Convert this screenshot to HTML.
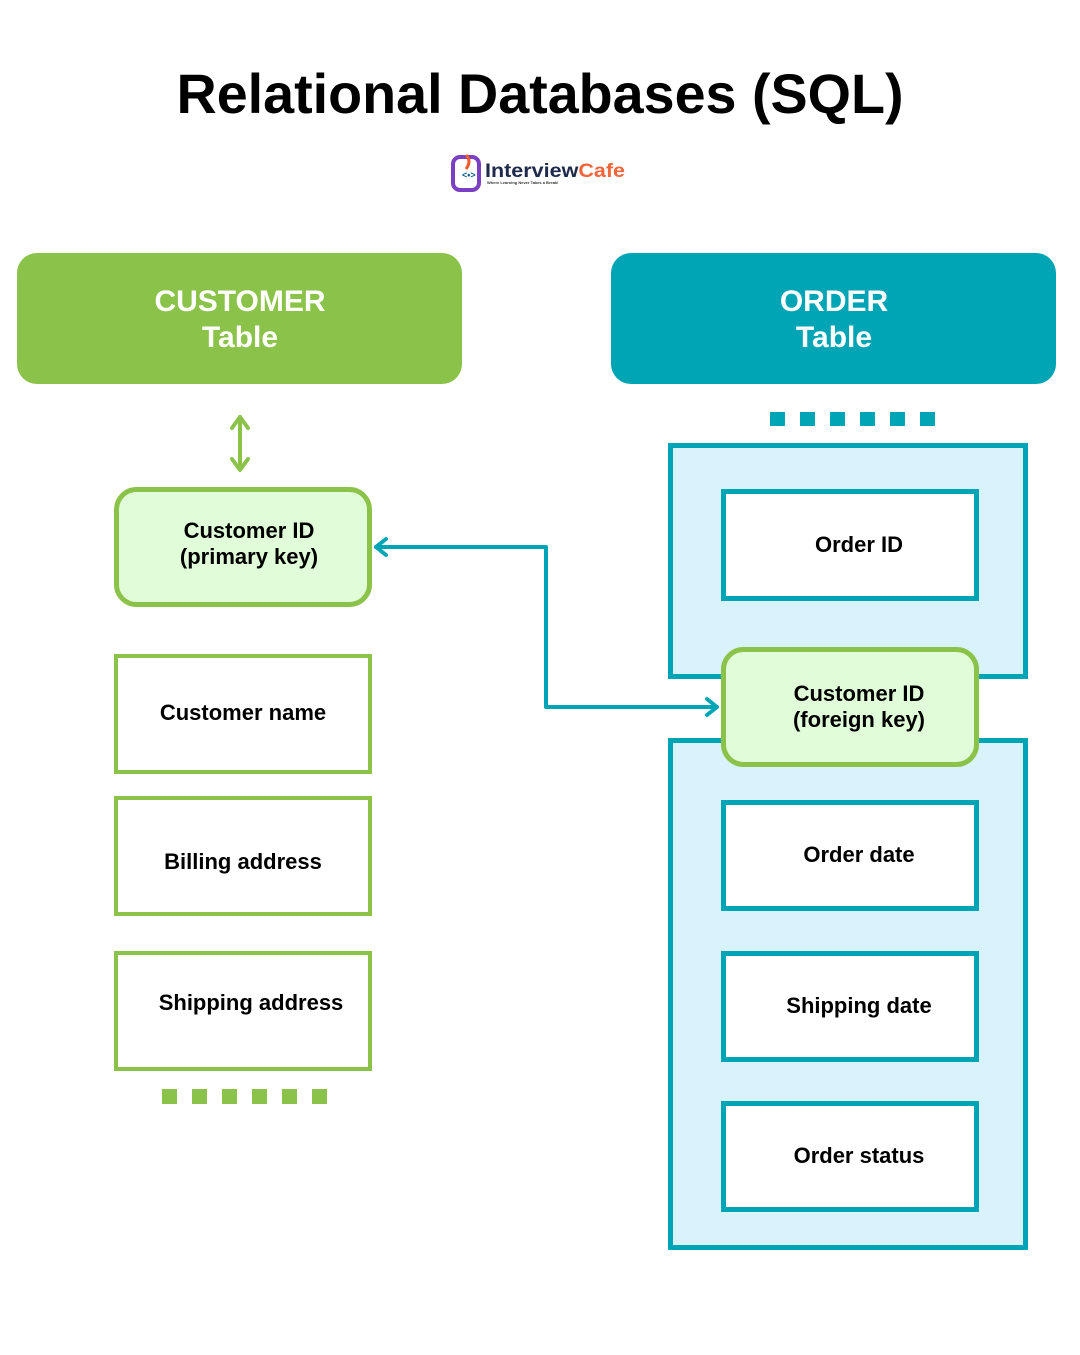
<!DOCTYPE html>
<html><head><meta charset="utf-8"><style>
body{margin:0;background:#fff}
svg text{font-family:"Liberation Sans",sans-serif;font-weight:bold}
</style></head><body>
<svg width="1080" height="1350" viewBox="0 0 1080 1350" xmlns="http://www.w3.org/2000/svg">
<text x="540" y="113" font-size="56" text-anchor="middle" fill="#000" textLength="727" lengthAdjust="spacingAndGlyphs">Relational Databases (SQL)</text>
<!-- logo -->
<rect x="453" y="157" width="26" height="33" rx="7" fill="none" stroke="#7b3fc4" stroke-width="4"/>
<path d="M466 155 q6 6 0 14" stroke="#f25c2a" stroke-width="3" fill="none"/>
<text x="462" y="178" font-size="9" fill="#0a5b8a">&lt;•&gt;</text>
<text x="485" y="177" font-size="19" fill="#1e2a4a" textLength="140" lengthAdjust="spacingAndGlyphs">Interview<tspan fill="#f2643a">Cafe</tspan></text>
<text x="487" y="184" font-size="4" fill="#333">Where Learning Never Takes a Break!</text>
<!-- headers -->
<rect x="17" y="253" width="445" height="131" rx="20" fill="#8bc34a"/>
<text x="240" y="311" font-size="30" fill="#fff" text-anchor="middle">CUSTOMER</text>
<text x="240" y="347" font-size="30" fill="#fff" text-anchor="middle">Table</text>
<rect x="611" y="253" width="445" height="131" rx="20" fill="#00a5b5"/>
<text x="834" y="311" font-size="30" fill="#fff" text-anchor="middle">ORDER</text>
<text x="834" y="347" font-size="30" fill="#fff" text-anchor="middle">Table</text>
<!-- teal dots -->
<g fill="#00a5b5"><rect x="770" y="412" width="15" height="14"/><rect x="800" y="412" width="15" height="14"/><rect x="830" y="412" width="15" height="14"/><rect x="860" y="412" width="15" height="14"/><rect x="890" y="412" width="15" height="14"/><rect x="920" y="412" width="15" height="14"/></g>
<g fill="#8bc34a"><rect x="162" y="1089" width="15" height="15"/><rect x="192" y="1089" width="15" height="15"/><rect x="222" y="1089" width="15" height="15"/><rect x="252" y="1089" width="15" height="15"/><rect x="282" y="1089" width="15" height="15"/><rect x="312" y="1089" width="15" height="15"/></g>
<!-- order containers -->
<rect x="670.5" y="445.5" width="355" height="231" fill="#d8f3fc" stroke="#00a5b5" stroke-width="5"/>
<rect x="670.5" y="740.5" width="355" height="507" fill="#d8f3fc" stroke="#00a5b5" stroke-width="5"/>
<g fill="#fff" stroke="#00a5b5" stroke-width="5">
<rect x="723.5" y="491.5" width="253" height="107"/>
<rect x="723.5" y="802.5" width="253" height="106"/>
<rect x="723.5" y="953.5" width="253" height="106"/>
<rect x="723.5" y="1103.5" width="253" height="106"/>
</g>
<rect x="723.5" y="649.5" width="253" height="115" rx="20" fill="#e0fcd8" stroke="#8bc34a" stroke-width="5"/>
<g font-size="22" fill="#000" text-anchor="middle">
<text x="859" y="552">Order ID</text>
<text x="859" y="701">Customer ID</text>
<text x="859" y="727">(foreign key)</text>
<text x="859" y="862">Order date</text>
<text x="859" y="1013">Shipping date</text>
<text x="859" y="1163">Order status</text>
</g>
<!-- customer fields -->
<rect x="116.5" y="489.5" width="253" height="115" rx="20" fill="#e0fcd8" stroke="#8bc34a" stroke-width="5"/>
<g fill="#fff" stroke="#8bc34a" stroke-width="4">
<rect x="116" y="656" width="254" height="116"/>
<rect x="116" y="798" width="254" height="116"/>
<rect x="116" y="953" width="254" height="116"/>
</g>
<g font-size="22" fill="#000" text-anchor="middle">
<text x="249" y="538">Customer ID</text>
<text x="249" y="564">(primary key)</text>
<text x="243" y="720">Customer name</text>
<text x="243" y="869">Billing address</text>
<text x="251" y="1010">Shipping address</text>
</g>
<!-- double arrow -->
<g stroke="#8bc34a" stroke-width="4" fill="none" stroke-linecap="round" stroke-linejoin="round">
<line x1="240" y1="417" x2="240" y2="469"/>
<path d="M232 428 L240 417 L248 428"/>
<path d="M232 459 L240 470 L248 459"/>
</g>
<!-- connector -->
<g stroke="#00a5b5" stroke-width="4" fill="none" stroke-linecap="round" stroke-linejoin="round">
<path d="M717 707 H546 V547 H376"/>
<path d="M386 539 L376 547 L386 555"/>
<path d="M707 699 L717 707 L707 715"/>
</g>
</svg>
</body></html>
